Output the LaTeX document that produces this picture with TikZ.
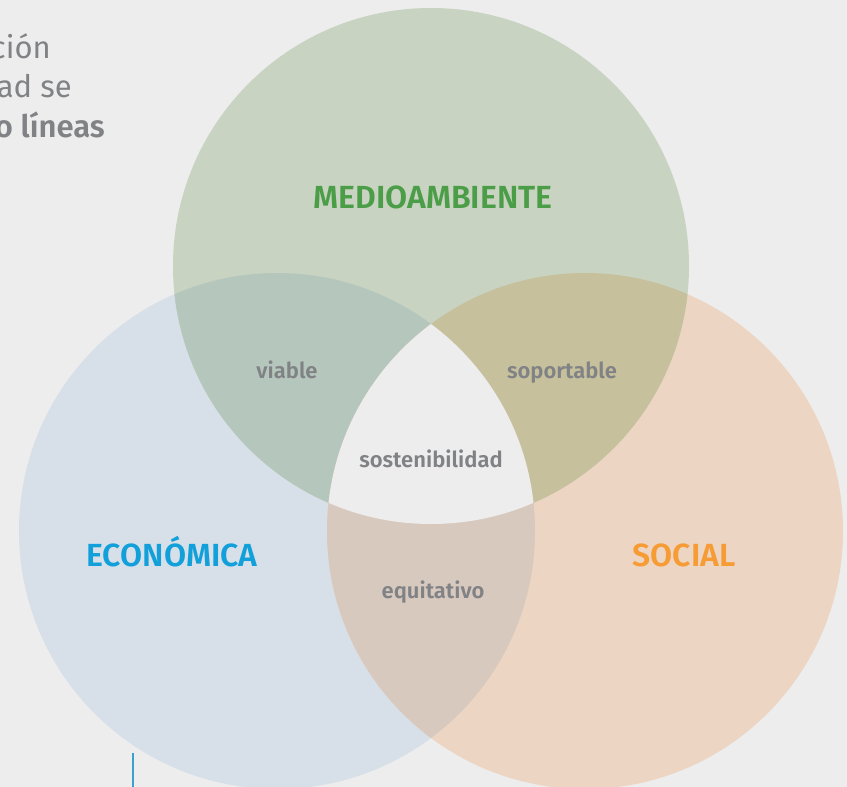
\documentclass[tikz,border=0pt]{standalone}
\usepackage{fontspec}
\setmainfont{Fira Sans}[BoldFont={Fira Sans SemiBold}]
\definecolor{bg}{HTML}{EDEDED}
\definecolor{cgreen}{HTML}{C8D3C1}
\definecolor{cblue}{HTML}{D7DFE8}
\definecolor{corange}{HTML}{ECD5C2}
\definecolor{cgb}{HTML}{B5C7BD}
\definecolor{cgo}{HTML}{C7C09C}
\definecolor{cbo}{HTML}{D8C9BE}
\definecolor{tgreen}{HTML}{4B9E47}
\definecolor{tblue}{HTML}{12A0DA}
\definecolor{torange}{HTML}{F79C35}
\definecolor{tgray}{HTML}{808285}
\definecolor{lineblue}{HTML}{3AA0D0}
\begin{document}
\begin{tikzpicture}[x=1pt,y=-1pt,
  bigtitle/.style={font=\fontsize{32}{36}\selectfont\bfseries, inner sep=0pt, anchor=base},
  smalllabel/.style={font=\fontsize{22}{24}\selectfont\bfseries, text=tgray, inner sep=0pt, anchor=base},
  sidetext/.style={font=\fontsize{31}{36}\selectfont, text=tgray, inner sep=0pt, anchor=base east}]
\useasboundingbox (0,0) rectangle (847,787);
\clip (0,0) rectangle (847,787);
\fill[bg] (0,0) rectangle (847,787);
\coordinate (G) at (431,266);
\coordinate (B) at (277,531);
\coordinate (O) at (585,531);
\def\rr{258}
% side text
\node[sidetext] (t1) at (51,58) {ción};
\node[sidetext] (t2) at (72,97) {ad se};
\node[sidetext, font=\fontsize{31}{36}\selectfont\bfseries] (t3) at (105,137) {o líneas};
% circles
\fill[cblue] (B) circle (\rr);
\fill[corange] (O) circle (\rr);
\fill[cgreen] (G) circle (\rr);
\begin{scope}
  \clip (G) circle (\rr);
  \fill[cgb] (B) circle (\rr);
  \fill[cgo] (O) circle (\rr);
\end{scope}
\begin{scope}
  \clip (B) circle (\rr);
  \fill[cbo] (O) circle (\rr);
  \clip (O) circle (\rr);
  \fill[bg] (G) circle (\rr);
\end{scope}
% line
\coordinate (l1) at (133,753);
\coordinate (l2) at (133,790);
\draw[lineblue, line width=2pt] (l1) -- (l2);
% labels
\node[bigtitle, text=tgreen] (env) at (433,208) {MEDIOAMBIENTE};
\node[bigtitle, text=tblue] (eco) at (172,566) {ECONÓMICA};
\node[bigtitle, text=torange] (soc) at (684,566) {SOCIAL};
\node[smalllabel] (via) at (287,378) {viable};
\node[smalllabel] (sop) at (562,378) {soportable};
\node[smalllabel] (sos) at (431,467) {sostenibilidad};
\node[smalllabel] (equ) at (433,598) {equitativo};
\end{tikzpicture}
\end{document}
